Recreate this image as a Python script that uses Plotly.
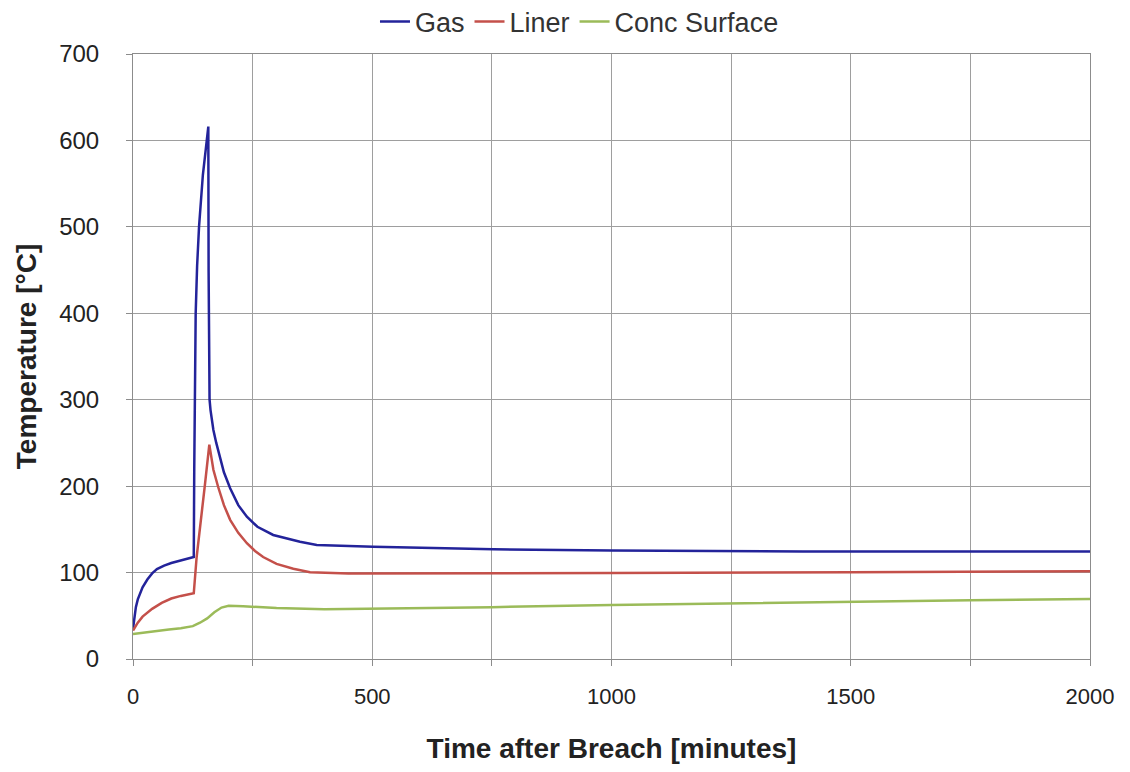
import plotly.graph_objects as go

# ---- data ----
gas_t = [0, 3, 6, 10, 15, 20, 30, 40, 50, 65, 80, 100, 115, 127, 128, 129, 131, 134, 138, 146, 154, 157.4,
         158, 159, 160, 162, 164.4, 168, 174, 180, 190, 203, 220, 238, 260, 293, 349, 384, 430, 502, 753, 871,
         1000, 1400, 2000]
gas_v = [35, 50, 60, 69, 77, 83, 92, 99, 104, 108, 111, 114, 116, 118, 220, 300, 400, 455, 500, 560, 600, 616,
         450, 330, 300, 288, 276, 265, 250, 237, 216, 197.5, 178, 164.6, 153, 143.5, 135.7, 132, 131, 130, 127, 126,
         125.5, 124.5, 124.5]

liner_t = [0, 5, 10, 20, 30, 40, 60, 80, 100, 127, 133, 140, 150, 159.5, 165, 168, 178, 190, 203, 220, 238,
           255, 272, 300, 335, 370, 450, 500, 750, 1000, 1500, 2000]
liner_v = [33, 38, 42, 49, 54, 58, 65, 70, 73, 76, 118, 150, 200, 248, 228, 219, 199, 178, 161, 146, 134,
           125, 118, 110, 104.5, 100.5, 99, 99, 99, 99.5, 100.5, 101.5]

conc_t = [0, 25, 50, 75, 100, 125, 140, 155, 170, 185, 200, 230, 300, 400, 500, 750, 1000, 1250, 1500, 1750, 2000]
conc_v = [29, 31, 32.5, 34, 35.5, 38, 42, 47, 54, 59.5, 61.5, 61, 59, 57.5, 58, 60, 62.5, 64.5, 66.5, 68, 69.5]

x_tickvals = [0, 250, 500, 750, 1000, 1250, 1500, 1750, 2000]
x_ticktext = ["0", "", "500", "", "1000", "", "1500", "", "2000"]
y_tickvals = [0, 100, 200, 300, 400, 500, 600, 700]

series = [
    ("Gas", gas_t, gas_v, "#23239a"),
    ("Liner", liner_t, liner_v, "#c4504a"),
    ("Conc Surface", conc_t, conc_v, "#9bbb59"),
]

fig = go.Figure()
for name, t, v, col in series:
    fig.add_trace(go.Scatter(x=t, y=v, name=name, mode="lines",
                             line=dict(color=col, width=2.5)))

font_family = "Liberation Sans, Arial, sans-serif"
fig.update_layout(
    width=1114, height=756,
    margin=dict(l=125, r=32, t=46, b=105, autoexpand=False),
    paper_bgcolor="white", plot_bgcolor="white",
    font=dict(family=font_family, color="#222222"),
    showlegend=True,
    legend=dict(orientation="h", xref="container", yref="container",
                x=0.513, xanchor="center", y=0.9815, yanchor="middle",
                font=dict(size=27, color="#333333"), itemwidth=30,
                bgcolor="rgba(0,0,0,0)", traceorder="normal"),
)
fig.update_xaxes(
    range=[0, 2000], tickmode="array", tickvals=x_tickvals, ticktext=x_ticktext,
    showgrid=True, gridcolor="#9e9e9e", gridwidth=1,
    showline=True, linecolor="#8c8c8c", linewidth=1, mirror=True,
    ticks="outside", ticklen=6, tickcolor="#8c8c8c",
    tickfont=dict(size=22, color="#222222"), ticklabelstandoff=12,
    zeroline=False, automargin=False,
    title=dict(text="<b>Time after Breach [minutes]</b>", font=dict(size=28, color="#222222"), standoff=30),
)
fig.update_yaxes(
    range=[0, 700], tickmode="array", tickvals=y_tickvals,
    showgrid=True, gridcolor="#9e9e9e", gridwidth=1,
    showline=True, linecolor="#8c8c8c", linewidth=1, mirror=True,
    ticks="outside", ticklen=6, tickcolor="#8c8c8c",
    tickfont=dict(size=24, color="#222222"), ticklabelstandoff=22,
    zeroline=False, automargin=False,
    title=dict(text="<b>Temperature [°C]</b>", font=dict(size=28, color="#222222"), standoff=14),
)

fig.write_html("out.html")
